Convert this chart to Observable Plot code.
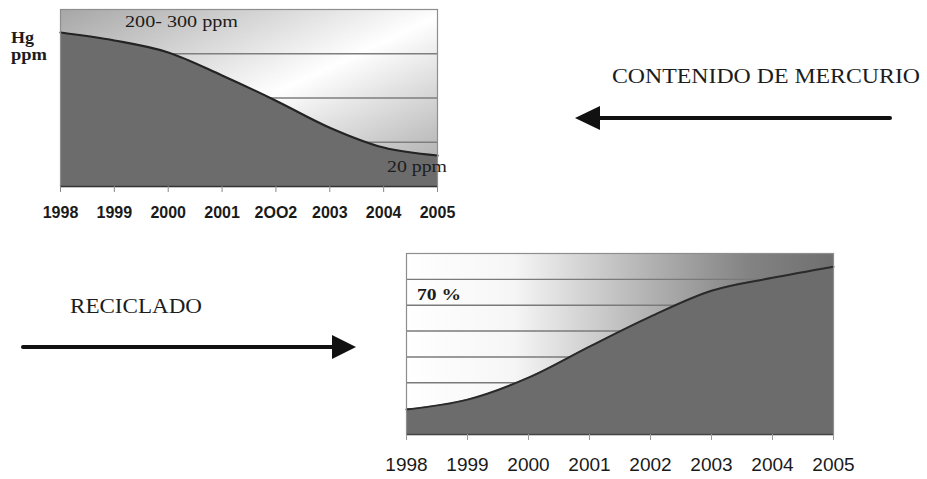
<!DOCTYPE html>
<html>
<head>
<meta charset="utf-8">
<script src="https://cdn.jsdelivr.net/npm/d3@7"></script>
<script src="https://cdn.jsdelivr.net/npm/@observablehq/plot@0.6"></script>
<style>
  html, body { margin: 0; padding: 0; background: #fff; }
  #wrap { position: relative; width: 927px; height: 479px; overflow: hidden; background: #fff; }
  #wrap svg { position: absolute; left: 0; }
</style>
</head>
<body>
<div id="wrap"></div>
<script>
// ---- data ----
const years = [1998, 1999, 2000, 2001, 2002, 2003, 2004, 2005];
// mercury content, relative units (chart has 4 unlabelled bands: top ≈ 200-300 ppm, end ≈ 20 ppm)
const mercuryLevel = [3.48, 3.30, 3.03, 2.51, 1.94, 1.33, 0.88, 0.70];
// recycling, percent (7 bands of 10 %)
const recyclingPct = [9.7, 13.5, 22.0, 34.0, 45.6, 55.6, 60.6, 64.9];
const topYearLabels = ["1998", "1999", "2000", "2001", "2OO2", "2003", "2004", "2005"];
const bottomYearLabels = ["1998", "1999", "2000", "2001", "2002", "2003", "2004", "2005"];
const mercuryGrid = [1, 2, 3];
const recyclingGrid = [10, 20, 30, 40, 50, 60];

const topData = years.map((year, i) => ({year, value: mercuryLevel[i]}));
const bottomData = years.map((year, i) => ({year, value: recyclingPct[i]}));

const wrap = document.getElementById("wrap");
const sans = "'Liberation Sans', Arial, sans-serif";
const serif = "'Liberation Serif', 'Times New Roman', serif";

function addGradient(svg, id, coords, stops) {
  const defs = d3.select(svg).insert("defs", ":first-child");
  const g = defs.append("linearGradient").attr("id", id)
    .attr("x1", coords[0]).attr("y1", coords[1]).attr("x2", coords[2]).attr("y2", coords[3]);
  stops.forEach(([o, c]) => g.append("stop").attr("offset", o).attr("stop-color", c));
}

// ---- top chart: mercury content ----
const topChart = Plot.plot({
  width: 927, height: 230,
  marginLeft: 60, marginRight: 490, marginTop: 9, marginBottom: 44,
  style: {background: "transparent", color: "#1a1a1a"},
  x: {domain: [1998, 2005], label: null},
  y: {domain: [0, 4], axis: null},
  marks: [
    Plot.frame({fill: "url(#gTop)", stroke: "none"}),
    Plot.ruleY(mercuryGrid, {stroke: "#7e7e7e", strokeWidth: 1.4}),
    Plot.areaY(topData, {x: "year", y: "value", fill: "#6c6c6c", curve: "monotone-x"}),
    Plot.lineY(topData, {x: "year", y: "value", stroke: "#232323", strokeWidth: 2.2, curve: "monotone-x"}),
    Plot.frame({stroke: "#8e8e8e", strokeWidth: 1.2}),
    Plot.ruleY([0], {stroke: "#333", strokeWidth: 1.6}),
    Plot.axisX(years, {
      label: null,
      tickSize: 6, tickPadding: 14, stroke: "#888",
      tickFormat: d => topYearLabels[years.indexOf(d)],
      fontSize: 16, fontWeight: "bold", fontFamily: sans, fill: "#1a1a1a"
    })
  ]
});
addGradient(topChart, "gTop", [0, 0, 1, 1], [[0, "#a6a6a6"], [0.52, "#ffffff"], [1, "#a4a4a4"]]);
topChart.style.top = "0px";
wrap.appendChild(topChart);

// ---- bottom chart: recycling ----
const bottomChart = Plot.plot({
  width: 927, height: 249,
  marginLeft: 406, marginRight: 94, marginTop: 23, marginBottom: 45,
  style: {background: "transparent", color: "#1a1a1a"},
  x: {domain: [1998, 2005], label: null},
  y: {domain: [0, 70], axis: null},
  marks: [
    Plot.frame({fill: "url(#gBottom)", stroke: "none"}),
    Plot.ruleY(recyclingGrid, {stroke: "#7a7a7a", strokeWidth: 1.4}),
    Plot.areaY(bottomData, {x: "year", y: "value", fill: "#6c6c6c", curve: "monotone-x"}),
    Plot.lineY(bottomData, {x: "year", y: "value", stroke: "#2a2a2a", strokeWidth: 2, curve: "monotone-x"}),
    Plot.frame({stroke: "#8e8e8e", strokeWidth: 1.2}),
    Plot.ruleY([0], {stroke: "#444", strokeWidth: 1.4}),
    Plot.axisX(years, {
      label: null,
      tickSize: 6, tickPadding: 17, stroke: "#999",
      tickFormat: d => bottomYearLabels[years.indexOf(d)],
      fontSize: 19, fontFamily: sans, fill: "#1a1a1a"
    })
  ]
});
addGradient(bottomChart, "gBottom", [0, 0, 1, 0],
  [[0, "#ffffff"], [0.25, "#f6f6f6"], [0.55, "#b6b6b6"], [0.8, "#838383"], [1, "#6f6f6f"]]);
bottomChart.style.top = "230px";
wrap.appendChild(bottomChart);

// ---- annotations and arrows ----
const ov = d3.create("svg").attr("width", 927).attr("height", 479)
  .style("top", "0px").style("pointer-events", "none").style("overflow", "visible");

function label(text, x, y, size, len, weight) {
  ov.append("text").attr("x", x).attr("y", y)
    .attr("font-family", serif).attr("font-size", size).attr("font-weight", weight || "normal")
    .attr("fill", "#1c1c1c").attr("textLength", len).attr("lengthAdjust", "spacingAndGlyphs")
    .text(text);
}
label("Hg", 11, 43, 16, 23, "bold");
label("ppm", 11, 60, 16, 36, "bold");
label("200- 300 ppm", 125, 27, 17, 113);
label("20 ppm", 387, 172, 17, 60);
label("70 %", 417, 300, 16, 44, "bold");
label("CONTENIDO DE MERCURIO", 612, 83, 22, 308);
label("RECICLADO", 70, 313, 22, 132);

// arrow pointing left (mercury)
ov.append("line").attr("x1", 890).attr("y1", 118).attr("x2", 596).attr("y2", 118)
  .attr("stroke", "#111").attr("stroke-width", 4).attr("stroke-linecap", "round");
ov.append("path").attr("d", "M575,118 L600,106 L600,130 Z").attr("fill", "#111");
// arrow pointing right (recycling)
ov.append("line").attr("x1", 23).attr("y1", 347).attr("x2", 336).attr("y2", 347)
  .attr("stroke", "#111").attr("stroke-width", 4).attr("stroke-linecap", "round");
ov.append("path").attr("d", "M356,347 L332,335 L332,359 Z").attr("fill", "#111");

wrap.appendChild(ov.node());
</script>
</body>
</html>
